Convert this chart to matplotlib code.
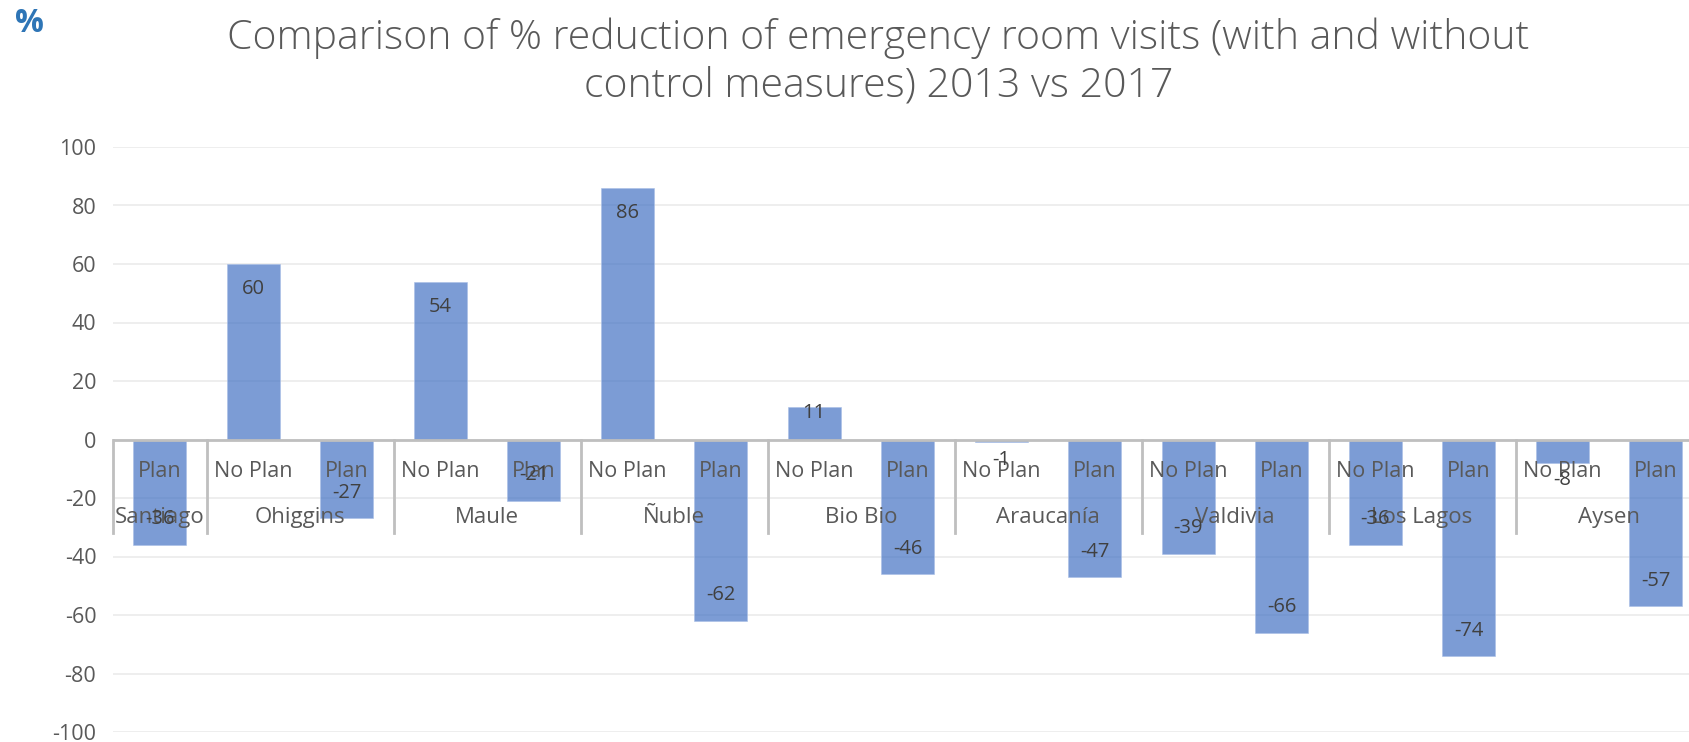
import numpy as np
import matplotlib.pyplot as plt

plt.rcParams['font.family'] = ['Open Sans', 'DejaVu Sans']
plt.rcParams['axes.unicode_minus'] = False

# datos
regions = ['Santiago', 'Ohiggins', 'Maule', 'Ñuble', 'Bio Bio',
           'Araucanía', 'Valdivia', 'Los Lagos', 'Aysen']
no_plan = [None, 60, 54, 86, 11, -1, -39, -36, -8]
plan = [-36, -27, -21, -62, -46, -47, -66, -74, -57]
yticks = [-100, -80, -60, -40, -20, 0, 20, 40, 60, 80, 100]

# slots on the category axis
sub_labels = []
values = []
group_bounds = []
i = 0
for r, n, p in zip(regions, no_plan, plan):
    start = i
    if n is not None:
        sub_labels.append('No Plan')
        values.append(n)
        i += 1
    sub_labels.append('Plan')
    values.append(p)
    i += 1
    group_bounds.append((start, i))
x = np.arange(len(values))

W, H = 1689, 742
fig = plt.figure(figsize=(W / 100, H / 100), dpi=100)
slot = 93.5
left = 113 / W
ax = fig.add_axes([left, 1 - 732 / H, slot * len(values) / W, (732 - 147) / H])

txt = '#595959'
ax.bar(x, values, width=0.57, color='#4472C4', alpha=0.7, zorder=2,
       edgecolor='#A9BFE6', linewidth=0.6)
ax.set_xlim(-0.5, len(values) - 0.5)
ax.set_ylim(-100, 100)
ax.set_yticks(yticks)
ax.tick_params(axis='y', length=0, pad=12, labelsize=15.5, labelcolor=txt)
ax.set_xticks([])
ax.grid(axis='y', color='#EBEBEB', linewidth=1.2, zorder=0)
for s in ax.spines.values():
    s.set_visible(False)

# axis line and separators
ax.axhline(0, color='#BFBFBF', linewidth=2, zorder=3)
for k, (a, b) in enumerate(group_bounds):
    ax.plot([a - 0.5, a - 0.5], [0, -31.8], color='#BFBFBF', linewidth=2,
            zorder=3, clip_on=False)
    ax.text((a + b - 1) / 2, -26.7, regions[k],
            ha='center', va='center', fontsize=16, color=txt, zorder=5)
for xi, lab in zip(x, sub_labels):
    ax.text(xi, -10.8, lab, ha='center', va='center', fontsize=15.5,
            color=txt, zorder=5)

# data labels
for xi, v in zip(x, values):
    if abs(v) >= 15:
        y = v - 8.7 * np.sign(v)
    elif v > 0:
        y = v - 2
    else:
        y = v - 6
    ax.text(xi, y, str(v), ha='center', va='center', fontsize=14.5,
            color='#404040', zorder=6)

fig.text(0.52, 0.948, 'Comparison of % reduction of emergency room visits (with and without',
         ha='center', va='center', fontsize=29.5, color=txt, fontweight='light')
fig.text(0.52, 0.884, 'control measures) 2013 vs 2017',
         ha='center', va='center', fontsize=29.5, color=txt, fontweight='light')
fig.text(0.009, 0.968, '%', ha='left', va='center', fontsize=23,
         color='#2E75B6', fontweight='bold')

fig.savefig('out.png', dpi=100)
